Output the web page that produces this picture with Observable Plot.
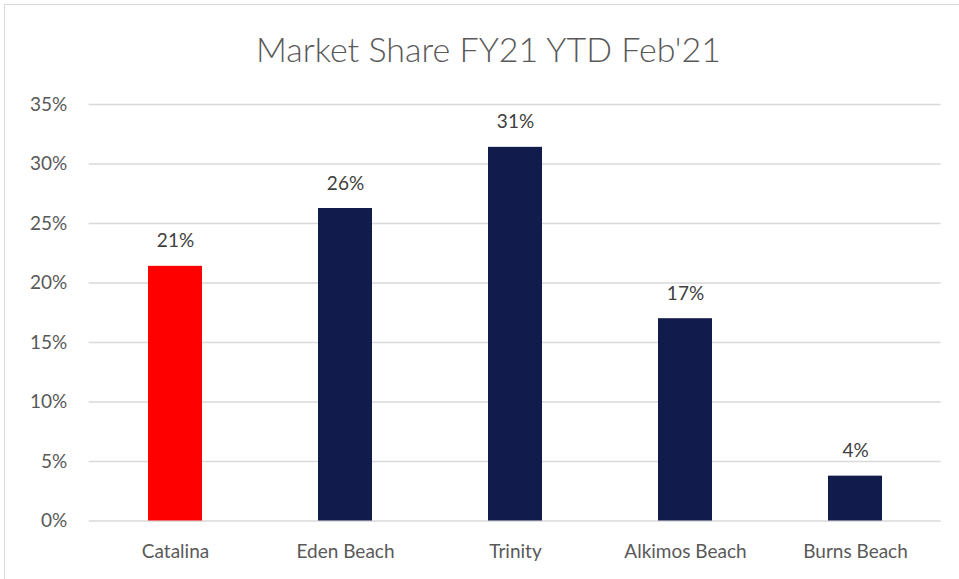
<!DOCTYPE html>
<html>
<head>
<meta charset="utf-8">
<script src="https://cdn.jsdelivr.net/npm/d3@7"></script>
<script src="https://cdn.jsdelivr.net/npm/@observablehq/plot@0.6"></script>
<style>
  html, body { margin: 0; padding: 0; background: #fff; }
  body { width: 959px; height: 579px; overflow: hidden; position: relative; font-family: Lato, "Open Sans", sans-serif; }
  #frame { position: absolute; left: 4px; top: 4px; width: 980px; height: 600px; border: 1.5px solid #d9d9d9; box-sizing: border-box; }
  #title { position: absolute; left: 9px; top: 0; width: 959px; height: 85px; text-align: center; font-family: Lato, sans-serif; font-weight: 300; font-size: 34px; color: #595959; line-height: 98px; }
  #chart { position: absolute; left: 0; top: 85px; }
</style>
</head>
<body>
<div id="frame"></div>
<div id="title">Market Share FY21 YTD Feb'21</div>
<div id="chart"></div>
<script>
const categories = ["Catalina", "Eden Beach", "Trinity", "Alkimos Beach", "Burns Beach"];
const shares = [0.214, 0.2626, 0.314, 0.170, 0.0377];
const yTicks = [0, 0.05, 0.10, 0.15, 0.20, 0.25, 0.30, 0.35];
const highlight = "Catalina";

const data = categories.map((c, i) => ({category: c, share: shares[i]}));
const fmt = d3.format(".0%");

const chart = Plot.plot({
  width: 959,
  height: 494,
  marginLeft: 88.7,
  marginRight: 18.3,
  marginTop: 19,
  marginBottom: 58.5,
  style: {fontFamily: "Lato, sans-serif", fontSize: "19px", color: "#595959", background: "transparent"},
  x: {domain: categories, paddingInner: 0.683, paddingOuter: 0.3415, label: null, tickSize: 0, tickPadding: 23},
  y: {domain: [0, 0.35], ticks: yTicks, tickFormat: fmt, label: null, tickSize: 0, tickPadding: 22},
  marks: [
    Plot.gridY(yTicks, {stroke: "#d9d9d9", strokeOpacity: 1, strokeWidth: 1.4}),
    Plot.barY(data, {x: "category", y: "share", fill: d => d.category === highlight ? "#ff0000" : "#121c4c"}),
    Plot.text(data, {x: "category", y: "share", text: d => fmt(d.share), lineAnchor: "bottom", dy: -19, fill: "#404040", fontSize: 19}),
    Plot.axisX({tickSize: 0, tickPadding: 23, fill: "#595959", fontSize: 19}),
    Plot.axisY({ticks: yTicks, tickFormat: fmt, tickSize: 0, tickPadding: 22, fill: "#595959", fontSize: 19})
  ]
});
document.getElementById("chart").appendChild(chart);
</script>
</body>
</html>
